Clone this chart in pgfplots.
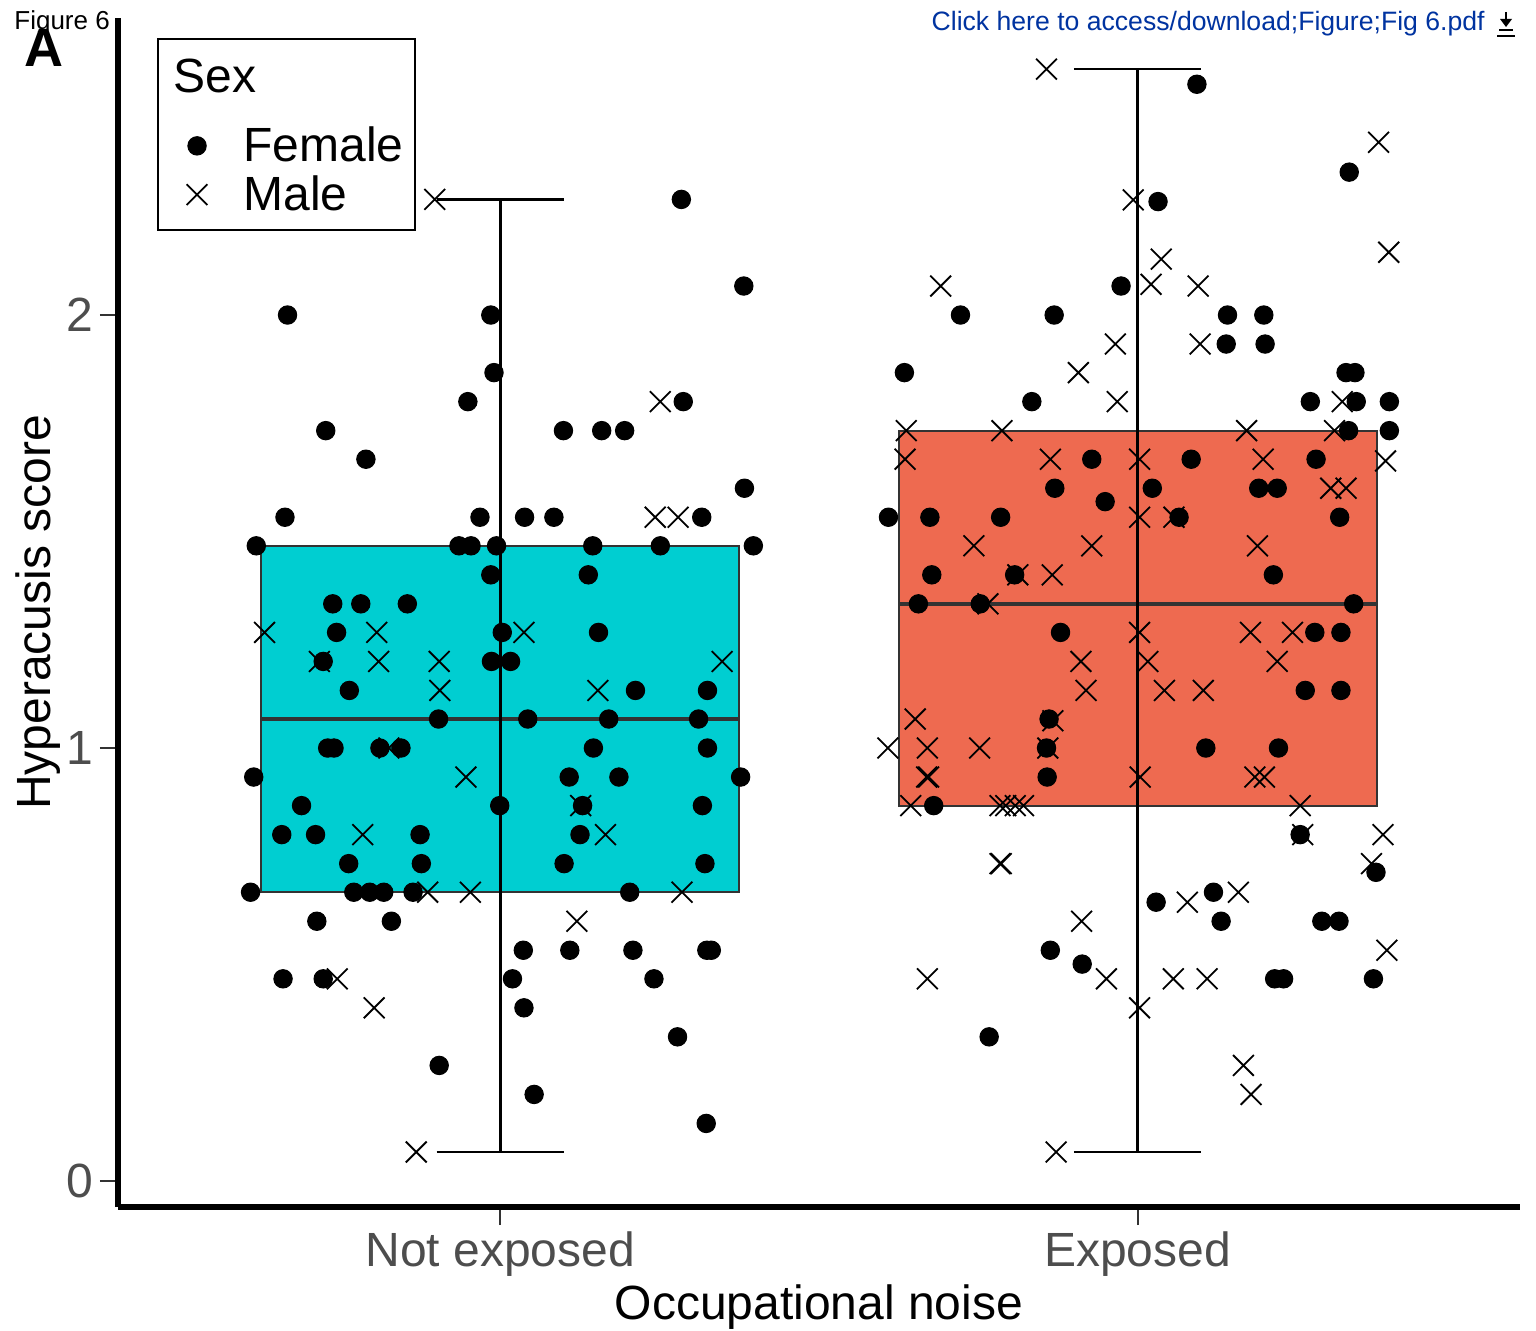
\documentclass[border=0pt]{standalone}
\usepackage{pgfplots}
\pgfplotsset{compat=1.18}
\usepackage{pgfplotstable}
\usepackage{fontspec}
\setmainfont{Liberation Sans}

\definecolor{boxcyan}{HTML}{00CED1}
\definecolor{boxred}{HTML}{EE6A50}
\definecolor{grayA}{HTML}{4D4D4D}
\definecolor{grayB}{HTML}{333333}
\definecolor{linkblue}{HTML}{0033A0}

% Female, both groups (x = 1 Not exposed, x = 2 Exposed, with jitter)
\pgfplotstableread{
x y
1.284 2.267
1.382 2.067
0.666 2.000
0.985 2.000
0.990 1.867
0.949 1.800
1.287 1.800
0.726 1.733
0.789 1.667
1.099 1.733
1.159 1.733
1.195 1.733
1.383 1.600
0.662 1.533
0.968 1.533
1.038 1.533
1.084 1.533
1.316 1.533
0.617 1.467
0.935 1.467
0.954 1.467
0.994 1.467
1.145 1.467
1.251 1.467
1.397 1.467
0.985 1.400
1.138 1.400
0.737 1.333
0.781 1.333
0.854 1.333
0.743 1.267
1.003 1.267
1.154 1.267
0.722 1.200
0.986 1.200
1.016 1.200
0.763 1.133
1.212 1.133
1.325 1.133
0.903 1.067
1.043 1.067
1.170 1.067
1.311 1.067
0.729 1.000
0.739 1.000
0.811 1.000
0.844 1.000
1.146 1.000
1.325 1.000
0.613 0.933
1.108 0.933
1.186 0.933
1.377 0.933
0.688 0.867
0.999 0.867
1.129 0.867
1.317 0.867
0.657 0.800
0.710 0.800
0.874 0.800
1.125 0.800
0.762 0.733
0.876 0.733
1.100 0.733
1.321 0.733
0.608 0.667
0.770 0.667
0.795 0.667
0.817 0.667
0.863 0.667
1.203 0.667
0.712 0.600
0.829 0.600
1.036 0.533
1.109 0.533
1.208 0.533
1.324 0.533
1.331 0.533
0.659 0.467
0.722 0.467
1.019 0.467
1.241 0.467
1.037 0.400
1.278 0.333
0.904 0.267
1.053 0.200
1.323 0.133
2.093 2.533
2.332 2.330
2.032 2.262
1.974 2.067
1.722 2.000
1.869 2.000
2.141 2.000
2.198 2.000
2.139 1.933
2.200 1.933
1.634 1.867
2.327 1.867
2.341 1.867
1.834 1.800
2.271 1.800
2.343 1.800
2.395 1.800
2.331 1.733
2.395 1.733
1.928 1.667
2.084 1.667
2.280 1.667
1.870 1.600
2.023 1.600
2.190 1.600
2.219 1.600
1.949 1.569
1.609 1.533
1.674 1.533
1.785 1.533
2.065 1.533
2.317 1.533
1.677 1.400
1.807 1.400
2.213 1.400
1.656 1.333
1.753 1.333
2.339 1.333
1.879 1.267
2.278 1.267
2.319 1.267
2.263 1.133
2.319 1.133
1.861 1.067
1.857 1.000
2.107 1.000
2.221 1.000
1.858 0.933
1.680 0.867
2.255 0.800
2.374 0.713
2.119 0.667
2.029 0.644
2.131 0.600
2.289 0.600
2.316 0.600
1.863 0.533
1.913 0.501
2.215 0.467
2.229 0.467
2.370 0.467
1.767 0.333
}\femaletable

% Male, both groups
\pgfplotstableread{
x y
0.897 2.267
1.251 1.800
1.243 1.533
1.279 1.533
0.630 1.267
0.806 1.267
1.037 1.267
0.716 1.200
0.809 1.200
0.904 1.200
1.348 1.200
0.905 1.133
1.153 1.133
0.825 1.000
0.946 0.933
1.126 0.867
0.784 0.800
1.165 0.800
0.886 0.667
0.953 0.667
1.285 0.667
1.120 0.600
0.744 0.467
0.802 0.400
0.868 0.067
1.857 2.568
2.378 2.399
1.993 2.266
2.394 2.145
2.037 2.129
1.691 2.067
2.021 2.071
2.095 2.067
1.965 1.933
2.098 1.933
1.907 1.867
1.968 1.800
2.321 1.800
1.637 1.733
1.787 1.733
2.171 1.733
2.309 1.733
1.635 1.667
1.863 1.667
2.003 1.667
2.197 1.667
2.389 1.663
2.303 1.600
2.327 1.600
2.003 1.533
2.057 1.533
1.743 1.467
1.928 1.467
2.188 1.467
1.812 1.400
1.866 1.400
1.765 1.333
2.003 1.267
2.177 1.267
2.243 1.267
1.911 1.200
2.016 1.200
2.219 1.200
1.919 1.133
2.042 1.133
2.103 1.133
1.651 1.067
1.867 1.063
1.608 1.000
1.670 1.000
1.752 1.000
1.859 1.000
1.669 0.933
1.672 0.933
2.004 0.933
2.184 0.933
2.199 0.933
1.644 0.867
1.784 0.867
1.793 0.867
1.808 0.867
1.821 0.867
2.255 0.867
2.259 0.800
2.385 0.800
1.784 0.733
1.786 0.733
2.367 0.733
2.158 0.667
2.078 0.644
1.912 0.600
2.391 0.533
1.670 0.467
1.951 0.467
2.056 0.467
2.109 0.467
2.003 0.400
2.166 0.267
2.178 0.200
1.872 0.067
}\maletable

\begin{document}
\begin{tikzpicture}
\path[use as bounding box] (0pt,0pt) rectangle (768pt,665pt);
\begin{axis}[
  at={(59pt,61.5pt)}, anchor=south west,
  scale only axis, width=701pt, height=594.5pt,
  xmin=0.4, xmax=2.6, ymin=-0.06, ymax=2.686,
  axis x line=bottom, axis y line=left,
  axis line style={line width=2.75pt, -},
  xtick={1,2}, xticklabels={Not exposed, Exposed},
  ytick={0,1,2},
  tick align=outside, major tick length=9pt,
  tick style={color=grayB, line width=1pt},
  ticklabel style={font=\fontsize{24}{24}\selectfont, text=grayA},
  /pgf/number format/assume math mode=true,
  yticklabel style={inner sep=0pt, xshift=-3pt},
  xlabel={Occupational noise}, ylabel={Hyperacusis score},
  label style={font=\fontsize{24}{24}\selectfont},
  xlabel style={at={(axis description cs:0.5,-0.095)}, anchor=base, inner sep=0pt},
  ylabel style={at={(axis description cs:-0.0485,0.5)}, anchor=base, inner sep=0pt},
  legend cell align=left,
  legend style={at={(axis description cs:0.0278,0.9832)}, anchor=north west,
    draw=black, line width=1pt, fill=white,
    font=\fontsize{24}{24}\selectfont,
    inner xsep=11pt, inner ysep=8pt, row sep=5.5pt,
    nodes={inner sep=0pt},
    /tikz/every odd column/.append style={column sep=18pt}},
]
% boxes
\addplot[fill=boxcyan, draw=grayB, line width=1pt, forget plot]
  coordinates {(0.625,0.667) (1.375,0.667) (1.375,1.467) (0.625,1.467)} -- cycle;
\addplot[fill=boxred, draw=grayB, line width=1pt, forget plot]
  coordinates {(1.625,0.867) (2.375,0.867) (2.375,1.733) (1.625,1.733)} -- cycle;
% medians
\addplot[grayB, line width=2.2pt, forget plot] coordinates {(0.625,1.067) (1.375,1.067)};
\addplot[grayB, line width=2.2pt, forget plot] coordinates {(1.625,1.333) (2.375,1.333)};
% error bars (min to max)
\addplot[black, line width=1.2pt, forget plot] coordinates {(1,0.067) (1,2.267)};
\addplot[black, line width=1.2pt, forget plot] coordinates {(0.9,0.067) (1.1,0.067)};
\addplot[black, line width=1.2pt, forget plot] coordinates {(0.9,2.267) (1.1,2.267)};
\addplot[black, line width=1.2pt, forget plot] coordinates {(2,0.067) (2,2.568)};
\addplot[black, line width=1.2pt, forget plot] coordinates {(1.9,0.067) (2.1,0.067)};
\addplot[black, line width=1.2pt, forget plot] coordinates {(1.9,2.568) (2.1,2.568)};
% legend title
\addlegendimage{empty legend}
\addlegendentry{\hspace*{-35pt}\raisebox{10pt}[29pt]{Sex}}
% points
\addplot[only marks, mark=*, mark size=4.6pt, black, mark options={line width=0.5pt}] table {\femaletable};
\addlegendentry{Female\hspace*{-5.5pt}}
\addplot[only marks, mark=x, mark size=7.35pt, black, mark options={line width=0.9pt}] table {\maletable};
\addlegendentry{Male}
\end{axis}
\node[anchor=base west, inner sep=0pt, font=\fontsize{13}{13}\selectfont] at (7pt,650pt) {Figure 6};
\node[anchor=base west, inner sep=0pt, font=\bfseries\fontsize{27}{27}\selectfont] at (12pt,631.5pt) {A};
\node[anchor=base east, inner sep=0pt, text=linkblue, font=\fontsize{13.3}{13.3}\selectfont] at (742.5pt,649.5pt) {Click here to access/download;Figure;Fig 6.pdf};
\fill[black] (750pt,655.5pt) -- (756pt,655.5pt) -- (753pt,651.5pt) -- cycle;
\draw[line width=1.3pt] (753pt,659pt) -- (753pt,655pt);
\draw[line width=1pt] (749.5pt,650pt) -- (756.5pt,650pt);
\draw[line width=0.6pt] (748.5pt,647pt) -- (757.5pt,647pt);
\end{tikzpicture}
\end{document}
